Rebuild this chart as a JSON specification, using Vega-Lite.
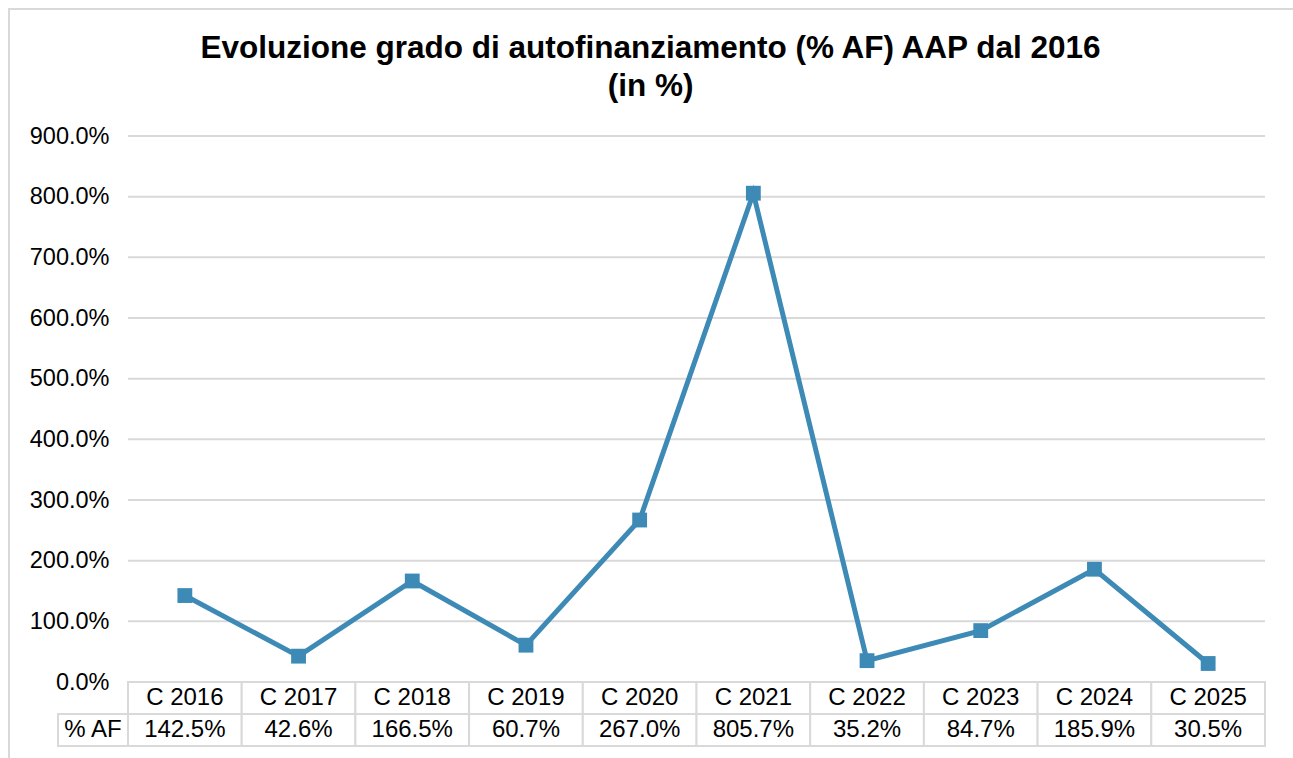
{
  "$schema": "https://vega.github.io/schema/vega-lite/v6.json",
  "width": 1207,
  "height": 610,
  "autosize": {"type": "none"},
  "padding": {"left": 58, "top": 136, "right": 28, "bottom": 12},
  "background": "white",
  "config": {"view": {"stroke": null}, "font": "Liberation Sans"},
  "title": {
    "text": ["Evoluzione grado di autofinanziamento (% AF) AAP dal 2016", "(in %)"],
    "font": "Liberation Sans",
    "fontSize": 31.5,
    "fontWeight": "bold",
    "color": "#000000",
    "anchor": "middle",
    "frame": "group",
    "dx": -11,
    "lineHeight": 38,
    "offset": -94
  },
  "datasets": {
    "af": [
      {"cat": "C 2016", "af": 1.425},
      {"cat": "C 2017", "af": 0.426},
      {"cat": "C 2018", "af": 1.665},
      {"cat": "C 2019", "af": 0.607},
      {"cat": "C 2020", "af": 2.670},
      {"cat": "C 2021", "af": 8.057},
      {"cat": "C 2022", "af": 0.352},
      {"cat": "C 2023", "af": 0.847},
      {"cat": "C 2024", "af": 1.859},
      {"cat": "C 2025", "af": 0.305}
    ]
  },
  "layer": [
    {
      "data": {"values": [{"frame": "chart"}]},
      "mark": {"type": "rect", "fill": "transparent", "stroke": "#d9d9d9", "strokeWidth": 2},
      "encoding": {
        "x": {"field": "frame", "type": "nominal", "axis": null, "scale": {"range": [-49, 1300], "paddingInner": 0, "paddingOuter": 0}},
        "y": {"field": "frame", "type": "nominal", "axis": null, "scale": {"range": [-127, 700], "paddingInner": 0, "paddingOuter": 0}}
      }
    },
    {
      "data": {"values": [{"g": 0}, {"g": 1}, {"g": 2}, {"g": 3}, {"g": 4}, {"g": 5}, {"g": 6}, {"g": 7}, {"g": 8}, {"g": 9}]},
      "mark": {"type": "rule", "stroke": "#d9d9d9", "strokeWidth": 2},
      "encoding": {
        "x": {"datum": 0, "type": "quantitative", "axis": null, "scale": {"domain": [0, 1], "range": [70, 1207]}},
        "x2": {"datum": 1},
        "y": {
          "field": "g",
          "type": "quantitative",
          "scale": {"domain": [0, 9], "range": [546, 0], "nice": false},
          "axis": {
            "values": [0, 1, 2, 3, 4, 5, 6, 7, 8, 9],
            "format": ".1%",
            "grid": false,
            "domain": false,
            "ticks": false,
            "title": null,
            "offset": -70,
            "labelPadding": 19,
            "labelFontSize": 23.5,
            "labelFont": "Liberation Sans",
            "labelColor": "#000000"
          }
        }
      }
    },
    {
      "data": {"name": "af"},
      "encoding": {
        "x": {"field": "cat", "type": "nominal", "sort": null, "axis": null,
          "scale": {"domain": ["C 2016", "C 2017", "C 2018", "C 2019", "C 2020", "C 2021", "C 2022", "C 2023", "C 2024", "C 2025"], "range": [70, 1207], "paddingInner": 0, "paddingOuter": 0}},
        "y": {"field": "af", "type": "quantitative", "axis": null, "scale": {"domain": [0, 9], "range": [546, 0], "nice": false}}
      },
      "layer": [
        {"mark": {"type": "line", "color": "#3E8AB6", "strokeWidth": 5}},
        {"mark": {"type": "square", "color": "#3E8AB6", "size": 220, "opacity": 1, "filled": true}}
      ]
    },
    {
      "data": {"name": "af"},
      "encoding": {
        "x": {"field": "cat", "type": "nominal", "sort": null, "axis": null,
          "scale": {"domain": ["C 2016", "C 2017", "C 2018", "C 2019", "C 2020", "C 2021", "C 2022", "C 2023", "C 2024", "C 2025"], "range": [70, 1207], "paddingInner": 0, "paddingOuter": 0}}
      },
      "layer": [
        {
          "mark": {"type": "rect", "fill": "white", "stroke": "#d9d9d9", "strokeWidth": 2},
          "encoding": {"y": {"datum": "h", "type": "nominal", "axis": null, "scale": {"domain": ["h", "v"], "range": [546, 610], "paddingInner": 0, "paddingOuter": 0}}}
        },
        {
          "mark": {"type": "rect", "fill": "white", "stroke": "#d9d9d9", "strokeWidth": 2},
          "encoding": {"y": {"datum": "v", "type": "nominal"}}
        },
        {
          "mark": {"type": "text", "fontSize": 24, "font": "Liberation Sans", "color": "#000000", "baseline": "middle", "align": "center"},
          "encoding": {"y": {"datum": "h", "type": "nominal"}, "text": {"field": "cat"}}
        },
        {
          "mark": {"type": "text", "fontSize": 24, "font": "Liberation Sans", "color": "#000000", "baseline": "middle", "align": "center"},
          "encoding": {"y": {"datum": "v", "type": "nominal"}, "text": {"field": "af", "type": "quantitative", "format": ".1%"}}
        }
      ]
    },
    {
      "data": {"values": [{"lab": "% AF"}]},
      "encoding": {
        "x": {"field": "lab", "type": "nominal", "axis": null, "scale": {"range": [0, 70], "paddingInner": 0, "paddingOuter": 0}},
        "y": {"datum": "v", "type": "nominal", "axis": null, "scale": {"domain": ["h", "v"], "range": [546, 610], "paddingInner": 0, "paddingOuter": 0}}
      },
      "layer": [
        {"mark": {"type": "rect", "fill": "white", "stroke": "#d9d9d9", "strokeWidth": 2}},
        {"mark": {"type": "text", "fontSize": 24, "font": "Liberation Sans", "color": "#000000", "baseline": "middle", "align": "center"}, "encoding": {"text": {"field": "lab"}}}
      ]
    }
  ],
  "resolve": {"scale": {"x": "independent", "y": "independent"}, "axis": {"x": "independent", "y": "independent"}}
}
